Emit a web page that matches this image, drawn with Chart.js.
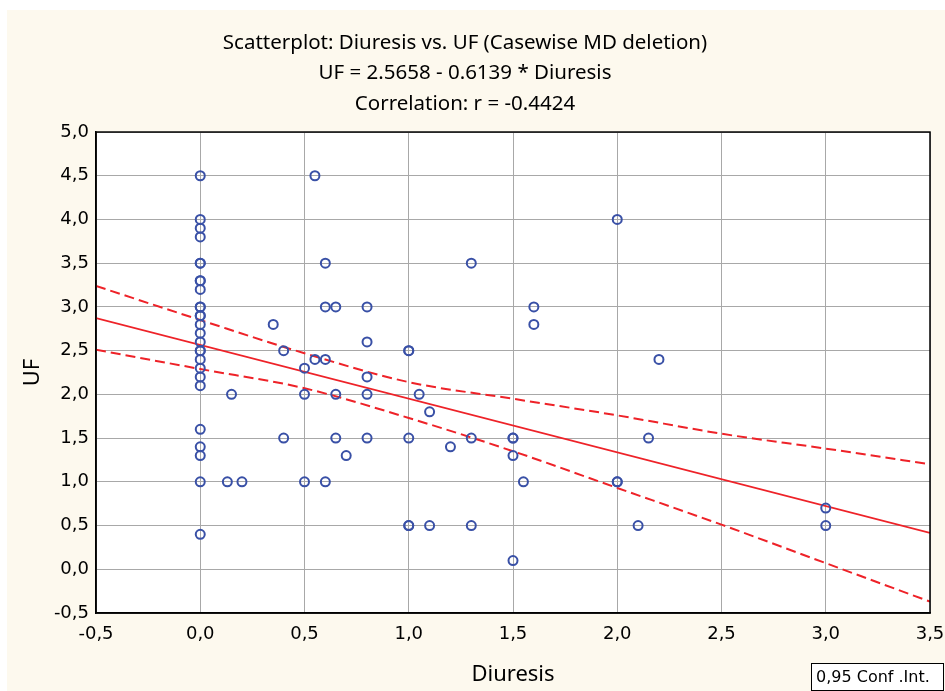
<!DOCTYPE html>
<html>
<head>
<meta charset="utf-8">
<script src="https://cdn.jsdelivr.net/npm/chart.js@4.4.1/dist/chart.umd.min.js"></script>
<style>
  html, body { margin: 0; padding: 0; background: #ffffff; }
  canvas { display: block; }
</style>
</head>
<body>
<canvas id="chart" width="945" height="691"></canvas>
<script>
// observed cases (Diuresis, UF)
const diuresis = [
  0, 0, 0, 0, 0, 0, 0, 0, 0, 0, 0, 0, 0, 0, 0, 0, 0, 0, 0, 0, 0, 0, 0, 0, 0, 0, 0,
  0.13, 0.15, 0.2, 0.35, 0.4, 0.4, 0.5, 0.5, 0.5, 0.55, 0.55, 0.6, 0.6, 0.6, 0.6,
  0.65, 0.65, 0.65, 0.7, 0.8, 0.8, 0.8, 0.8, 0.8,
  1.0, 1.0, 1.0, 1.0, 1.0, 1.05, 1.1, 1.1, 1.2, 1.3, 1.3, 1.3,
  1.5, 1.5, 1.5, 1.5, 1.55, 1.6, 1.6, 2.0, 2.0, 2.0, 2.1, 2.15, 2.2, 3.0, 3.0
];
const uf = [
  4.5, 4.0, 3.9, 3.8, 3.5, 3.5, 3.3, 3.3, 3.2, 3.0, 3.0, 2.9, 2.9, 2.8, 2.7, 2.6, 2.5, 2.5,
  2.4, 2.3, 2.2, 2.1, 1.6, 1.4, 1.3, 1.0, 0.4,
  1.0, 2.0, 1.0, 2.8, 2.5, 1.5, 2.3, 2.0, 1.0, 4.5, 2.4, 3.5, 3.0, 2.4, 1.0,
  3.0, 2.0, 1.5, 1.3, 3.0, 2.6, 2.2, 2.0, 1.5,
  2.5, 2.5, 1.5, 0.5, 0.5, 2.0, 1.8, 0.5, 1.4, 3.5, 1.5, 0.5,
  1.5, 1.5, 1.3, 0.1, 1.0, 3.0, 2.8, 4.0, 1.0, 1.0, 0.5, 1.5, 2.4, 0.7, 0.5
];

// fitted line UF = 2.5658 - 0.6139 * Diuresis, ends of the axis
const fitX = [-0.5, 3.5];
const fitY = [2.873, 0.417];

// 0.95 confidence band
const bandX = [-0.5, 0, 0.5, 1.0, 1.5, 2.0, 2.5, 3.0, 3.5];
const bandUpper = [3.24, 2.85, 2.47, 2.14, 1.95, 1.76, 1.55, 1.38, 1.20];
const bandLower = [2.51, 2.29, 2.07, 1.73, 1.35, 0.93, 0.51, 0.07, -0.37];

const titleLines = [
  'Scatterplot: Diuresis vs. UF (Casewise MD deletion)',
  'UF = 2.5658 - 0.6139 * Diuresis',
  'Correlation: r = -0.4424'
];

const CREAM = '#fdf9ee';
const RED = '#ee2228';
const BLUE = '#3950a6';
const TITLE_FONT = '"Noto Sans", sans-serif';
const TICK_FONT = '"DejaVu Sans", sans-serif';

const zip = (xs, ys) => xs.map((x, i) => ({ x, y: ys[i] }));
const fmt = (v) => v.toFixed(1).replace('.', ',');

const framePlugin = {
  id: 'frame',
  beforeDraw(chart) {
    const { ctx, chartArea: a } = chart;
    ctx.save();
    ctx.fillStyle = '#ffffff';
    ctx.fillRect(0, 0, chart.width, chart.height);
    ctx.fillStyle = CREAM;
    ctx.fillRect(7, 10, chart.width - 7, chart.height - 10);
    ctx.fillStyle = '#ffffff';
    ctx.fillRect(a.left, a.top, a.right - a.left, a.bottom - a.top);
    ctx.restore();
  },
  afterDraw(chart) {
    const { ctx, chartArea: a } = chart;
    ctx.save();
    ctx.strokeStyle = '#000000';
    ctx.lineWidth = 1.5;
    ctx.strokeRect(a.left, a.top, a.right - a.left, a.bottom - a.top);
    // little legend box, bottom right
    ctx.fillStyle = '#ffffff';
    ctx.fillRect(811, 663, 133, 28);
    ctx.lineWidth = 1;
    ctx.strokeRect(811.5, 663.5, 132, 27);
    ctx.fillStyle = '#000000';
    ctx.font = '16px ' + TICK_FONT;
    ctx.textBaseline = 'middle';
    ctx.fillText('0,95 Conf .Int.', 816, 678);
    ctx.restore();
  }
};

new Chart(document.getElementById('chart'), {
  type: 'scatter',
  data: {
    datasets: [
      {
        data: zip(diuresis, uf),
        pointStyle: 'circle',
        pointRadius: 4.5,
        pointBorderWidth: 2,
        borderColor: BLUE,
        backgroundColor: 'rgba(0,0,0,0)',
        showLine: false,
        order: 1,
      },
      {
        data: zip(fitX, fitY),
        showLine: true,
        borderColor: RED,
        borderWidth: 1.8,
        pointRadius: 0,
        order: 2,
      },
      {
        data: zip(bandX, bandUpper),
        showLine: true,
        borderColor: RED,
        borderWidth: 2,
        borderDash: [10, 5],
        cubicInterpolationMode: 'monotone',
        pointRadius: 0,
        order: 2,
      },
      {
        data: zip(bandX, bandLower),
        showLine: true,
        borderColor: RED,
        borderWidth: 2,
        borderDash: [10, 5],
        cubicInterpolationMode: 'monotone',
        pointRadius: 0,
        order: 2,
      },
    ],
  },
  options: {
    responsive: false,
    animation: false,
    layout: { padding: { top: 10, right: 15, bottom: 0, left: 0 } },
    plugins: {
      legend: { display: false },
      tooltip: { enabled: false },
      title: {
        display: true,
        text: titleLines,
        color: '#000000',
        font: { family: TITLE_FONT, size: 20.5, weight: 'normal', lineHeight: 1.48 },
        padding: { top: 18, bottom: 13 },
      },
    },
    scales: {
      x: {
        type: 'linear',
        min: -0.5,
        max: 3.5,
        afterFit: (s) => { s.height = 78; s.paddingRight = 0; s.paddingLeft = 0; },
        ticks: {
          stepSize: 0.5,
          color: '#000000',
          font: { family: TICK_FONT, size: 18 },
          padding: 11,
          callback: fmt,
        },
        grid: { color: '#a8a8a8', lineWidth: 1, drawTicks: false },
        border: { color: '#000000', width: 1.5 },
        title: {
          display: true,
          text: 'Diuresis',
          color: '#000000',
          font: { family: TITLE_FONT, size: 22, lineHeight: 1.2 },
          padding: { top: 0, bottom: 3 },
        },
      },
      y: {
        type: 'linear',
        min: -0.5,
        max: 5.0,
        afterFit: (s) => { s.width = 96; },
        ticks: {
          stepSize: 0.5,
          color: '#000000',
          font: { family: TICK_FONT, size: 18 },
          padding: 7,
          callback: fmt,
        },
        grid: { color: '#a8a8a8', lineWidth: 1, drawTicks: false },
        border: { color: '#000000', width: 1.5 },
        title: {
          display: true,
          text: 'UF',
          color: '#000000',
          font: { family: TITLE_FONT, size: 22, lineHeight: 1.2 },
          padding: { top: 20, bottom: 0 },
        },
      },
    },
  },
  plugins: [framePlugin],
});
</script>
</body>
</html>
